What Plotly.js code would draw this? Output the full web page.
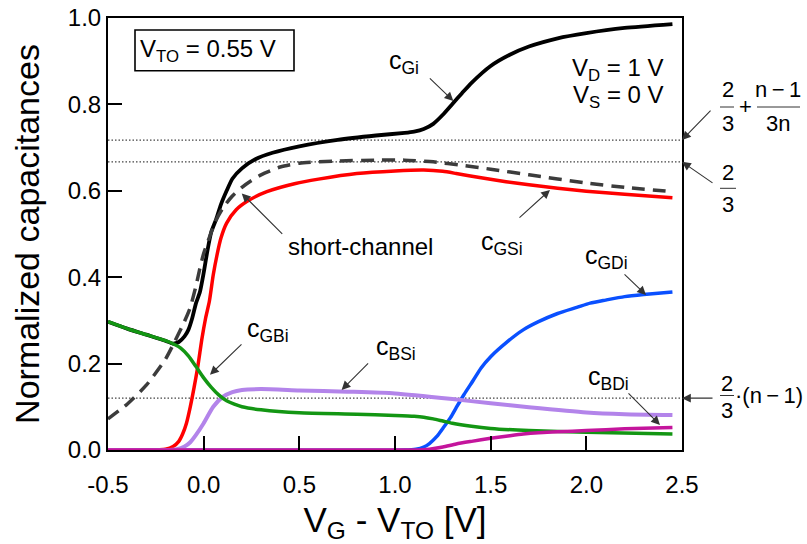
<!DOCTYPE html>
<html><head><meta charset="utf-8">
<script src="https://cdn.plot.ly/plotly-3.0.1.min.js"></script>
<style>html,body{margin:0;padding:0;background:#fff;}#chart{width:807px;height:544px;}</style>
</head><body><div id="chart"></div>
<script>
// ---- data ----
const xTicks = [-0.5, 0.0, 0.5, 1.0, 1.5, 2.0, 2.5];
const xTickText = ['-0.5', '0.0', '0.5', '1.0', '1.5', '2.0', '2.5'];
const yTicks = [0.0, 0.2, 0.4, 0.6, 0.8, 1.0];
const yTickText = ['0.0', '0.2', '0.4', '0.6', '0.8', '1.0'];

const refLevels = [0.7175, 0.667, 0.12];   // 2/3+(n-1)/3n, 2/3, 2/3*(n-1)

const xGi = [-0.5,-0.4,-0.3,-0.2,-0.16,-0.13,-0.1,-0.08,-0.06,-0.04,-0.02,0.0,0.02,0.04,0.066,0.09,0.12,0.15,0.2,0.27,0.36,0.5,0.7,0.9,1.05,1.1,1.15,1.2,1.25,1.3,1.35,1.4,1.5,1.6,1.7,1.85,2.0,2.2,2.45];
const cGi = [0.297,0.281,0.267,0.253,0.246,0.250,0.263,0.278,0.305,0.340,0.365,0.410,0.462,0.505,0.535,0.568,0.600,0.628,0.652,0.673,0.688,0.703,0.718,0.728,0.734,0.737,0.743,0.755,0.776,0.801,0.826,0.850,0.889,0.915,0.934,0.953,0.965,0.977,0.986];

const xSC = [-0.5,-0.4,-0.3,-0.2,-0.15,-0.1,-0.07,-0.04,-0.02,0.0,0.03,0.06,0.1,0.15,0.2,0.25,0.3,0.4,0.5,0.7,0.9,1.05,1.2,1.35,1.5,1.7,2.0,2.2,2.45];
const cShort = [0.072,0.106,0.150,0.210,0.252,0.298,0.330,0.380,0.420,0.455,0.492,0.528,0.560,0.588,0.608,0.624,0.637,0.655,0.664,0.669,0.671,0.671,0.667,0.659,0.650,0.637,0.618,0.608,0.598];

const xGS = [-0.5,-0.3,-0.2,-0.16,-0.13,-0.11,-0.09,-0.07,-0.05,-0.03,-0.01,0.01,0.03,0.05,0.07,0.09,0.12,0.17,0.24,0.33,0.48,0.6,0.8,1.0,1.15,1.25,1.32,1.45,1.58,1.7,1.85,2.0,2.2,2.45];
const cGSi = [0,0,0.002,0.008,0.020,0.037,0.062,0.100,0.145,0.195,0.255,0.305,0.345,0.405,0.452,0.490,0.525,0.556,0.579,0.598,0.617,0.627,0.640,0.646,0.648,0.645,0.640,0.630,0.621,0.614,0.606,0.599,0.592,0.584];

const xGD = [-0.5,1.05,1.11,1.15,1.18,1.22,1.25,1.29,1.32,1.36,1.41,1.45,1.5,1.58,1.67,1.75,1.85,1.95,2.02,2.1,2.2,2.3,2.45];
const cGDi = [0,0,0.002,0.007,0.015,0.032,0.050,0.075,0.098,0.128,0.162,0.190,0.216,0.248,0.278,0.297,0.316,0.330,0.340,0.347,0.355,0.360,0.366];

const xBS = [-0.5,-0.2,-0.14,-0.1,-0.07,-0.04,0.0,0.05,0.1,0.15,0.2,0.3,0.5,0.75,1.0,1.3,1.5,1.7,2.0,2.2,2.45];
const cBSi = [0,0,0.002,0.008,0.018,0.035,0.062,0.100,0.123,0.134,0.139,0.141,0.138,0.135,0.131,0.118,0.108,0.099,0.087,0.083,0.081];

const xGB = [-0.5,-0.4,-0.3,-0.2,-0.16,-0.12,-0.08,-0.04,0.0,0.04,0.08,0.12,0.16,0.2,0.3,0.5,0.8,1.0,1.1,1.15,1.2,1.25,1.3,1.4,1.5,1.7,2.0,2.45];
const cGBi = [0.297,0.281,0.267,0.253,0.246,0.236,0.218,0.193,0.167,0.145,0.127,0.114,0.106,0.100,0.093,0.086,0.083,0.080,0.078,0.076,0.072,0.067,0.062,0.055,0.050,0.045,0.041,0.037];

const xBD = [-0.5,1.1,1.18,1.25,1.32,1.4,1.5,1.6,1.67,1.75,1.85,2.0,2.2,2.45];
const cBDi = [0,0,0.002,0.007,0.014,0.020,0.027,0.033,0.037,0.040,0.042,0.045,0.049,0.052];

// ---- chart ----
const FONT = 'Liberation Sans, Arial, sans-serif';
function line(x, y, color, width, dash) {
  return {x: x, y: y, type: 'scatter', mode: 'lines', hoverinfo: 'skip',
    line: {color: color, width: width, dash: dash || 'solid', shape: 'spline', smoothing: 0.6}};
}
const traces = [];
refLevels.forEach(v => traces.push({x: [xTicks[0], xTicks[xTicks.length-1]], y: [v, v], type: 'scatter', mode: 'lines',
  hoverinfo: 'skip', line: {color: '#444', width: 1.3, dash: '1.5px,2px'}}));
traces.push(line(xGS, cGSi, '#ff0000', 3.5));
traces.push(line(xGi, cGi, '#000000', 3.8));
traces.push(line(xSC, cShort, '#3c3c3c', 3.5, '13px,8px'));
traces.push(line(xGD, cGDi, '#0a50ff', 3.5));
traces.push(line(xBS, cBSi, '#b384ea', 4));
traces.push(line(xGB, cGBi, '#139613', 3.5));
traces.push(line(xBD, cBDi, '#c4159c', 3.5));

const L = 108, T = 18, W = 574, H = 432;
const px = p => (p - L) / W;           // pixel -> paper
const py = p => (T + H - p) / H;

function txt(x, y, text, size, xanchor) {
  return {xref: 'paper', yref: 'paper', x: px(x), y: py(y), text: text, showarrow: false,
    xanchor: xanchor || 'center', yanchor: 'middle', font: {family: FONT, size: size, color: '#000'}};
}
function arrow(xt, yt, ax, ay) {
  return {xref: 'x', yref: 'y', x: xt, y: yt, ax: ax, ay: ay, text: '', showarrow: true,
    arrowhead: 2, arrowsize: 1.6, arrowwidth: 1.1, arrowcolor: '#333'};
}

const annotations = [
  txt(207.5, 50, 'V<sub>TO</sub> = 0.55 V', 24),
  txt(666, 69, 'V<sub>D</sub> = 1 V', 24, 'right'),
  txt(666, 97, 'V<sub>S</sub> = 0 V', 24, 'right'),
  txt(404, 62, 'c<sub>Gi</sub>', 25),
  txt(502, 243, 'c<sub>GSi</sub>', 25),
  txt(360, 246, 'short-channel', 24),
  txt(606, 257, 'c<sub>GDi</sub>', 25),
  txt(268, 330, 'c<sub>GBi</sub>', 25),
  txt(396, 348, 'c<sub>BSi</sub>', 25),
  txt(608, 378, 'c<sub>BDi</sub>', 25),
  // fractions on the right
  txt(727.5, 89, '2', 22), txt(727.5, 123, '3', 22), txt(745, 106, '+', 22),
  txt(778.5, 89, 'n\u2009\u2212\u20091', 22), txt(778.5, 123, '3n', 22),
  txt(728, 172.5, '2', 22), txt(728, 204, '3', 22),
  txt(726.5, 383, '2', 22), txt(726.5, 410, '3', 22), txt(733, 395, '\u00b7(n\u2009\u2212\u20091)', 22, 'left'),
  // arrows
  arrow(1.305, 0.808, -25, -24),
  arrow(1.810, 0.602, -32, 29),
  arrow(0.199, 0.594, 42, 42),
  arrow(2.312, 0.359, -23, -22),
  arrow(0.033, 0.174, 33, -32),
  arrow(0.721, 0.139, 28, -28),
  arrow(2.385, 0.058, -33, -33),
  arrow(2.5, refLevels[0], 30, -31),
  arrow(2.5, refLevels[1], 32, 22),
  arrow(2.5, refLevels[2], 32, 0)
];

const shapes = [
  {type: 'rect', xref: 'paper', yref: 'paper', x0: px(135), x1: px(294), y0: py(70.7), y1: py(30),
   line: {color: '#000', width: 1.6}},
  {type: 'line', xref: 'paper', yref: 'paper', x0: px(720), x1: px(734), y0: py(107), y1: py(107), line: {color: '#333', width: 1}},
  {type: 'line', xref: 'paper', yref: 'paper', x0: px(757), x1: px(800), y0: py(107), y1: py(107), line: {color: '#333', width: 1}},
  {type: 'line', xref: 'paper', yref: 'paper', x0: px(720), x1: px(736), y0: py(188.3), y1: py(188.3), line: {color: '#333', width: 1}},
  {type: 'line', xref: 'paper', yref: 'paper', x0: px(720), x1: px(734), y0: py(395.5), y1: py(395.5), line: {color: '#333', width: 1}}
];

const layout = {
  width: 807, height: 544,
  margin: {l: L, r: 807 - L - W, t: T, b: 544 - T - H, pad: 0},
  paper_bgcolor: '#fff', plot_bgcolor: '#fff',
  showlegend: false,
  font: {family: FONT, color: '#000'},
  xaxis: {
    range: [xTicks[0], xTicks[xTicks.length-1]], tickvals: xTicks, ticktext: xTickText,
    ticks: 'inside', ticklen: 14, tickwidth: 2, tickcolor: '#000', ticklabelstandoff: 12,
    showline: true, linewidth: 2, linecolor: '#000', mirror: true, showgrid: false, zeroline: false,
    tickfont: {family: FONT, size: 24, color: '#000'},
    title: {text: 'V<sub>G</sub> - V<sub>TO</sub> [V]', font: {family: FONT, size: 35, color: '#000'}, standoff: 13},
    automargin: false
  },
  yaxis: {
    range: [yTicks[0], yTicks[yTicks.length-1]], tickvals: yTicks, ticktext: yTickText,
    ticks: 'inside', ticklen: 14, tickwidth: 2, tickcolor: '#000', ticklabelstandoff: 0,
    showline: true, linewidth: 2, linecolor: '#000', mirror: true, showgrid: false, zeroline: false,
    tickfont: {family: FONT, size: 24, color: '#000'},
    title: {text: 'Normalized capacitances', font: {family: FONT, size: 34, color: '#000'}, standoff: 18},
    automargin: false
  },
  annotations: annotations,
  shapes: shapes
};

Plotly.newPlot('chart', traces, layout, {displayModeBar: false, staticPlot: true});
</script></body></html>
